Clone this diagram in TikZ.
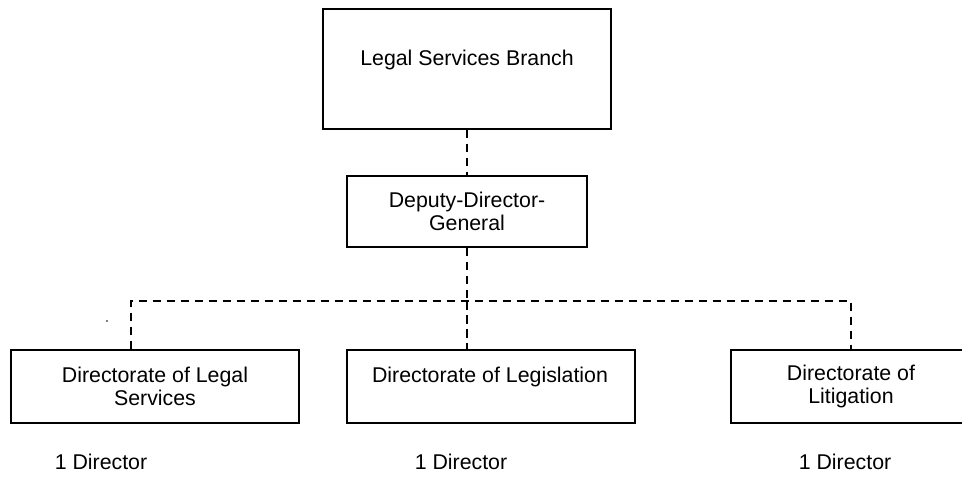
\documentclass[tikz,border=0pt]{standalone}
\usepackage{fontspec}
\setmainfont{Liberation Sans}
\begin{document}
\begin{tikzpicture}[x=0.75pt,y=-0.75pt,
  box/.style={draw=black,line width=1.1pt,rectangle,inner sep=0pt,
    minimum height=54.75pt,align=center,font=\fontsize{16}{17.5}\selectfont},
  txt/.style={inner sep=0pt,align=center,font=\fontsize{16}{17.5}\selectfont},
  conn/.style={draw=black,line width=1.1pt,dash pattern=on 6.5pt off 4pt}]
\useasboundingbox (0,0) rectangle (962,480);

% head of the branch
\node[box,minimum width=216pt,minimum height=90pt] (top) at (467,69) {};
\node[txt,anchor=base] (toptext) at (467,65) {Legal Services Branch};

\node[box,minimum width=180pt,minimum height=53.25pt] (ddg) at (467,211.5)
  {Deputy-Director-\\General};

% directorates
\node[box,minimum width=216pt] (lsvc) at (155,386.5) {Directorate of Legal\\Services};
\node[box,minimum width=216pt] (leg) at (491,386.5) {};
\node[txt,anchor=base] (legtext) at (490,382) {Directorate of Legislation};
\node[box,minimum width=180pt] (lit) at (851,386.5) {Directorate of\\Litigation};

% staffing
\node[txt] (d1) at (101,462) {1 Director};
\node[txt] (d2) at (461,462) {1 Director};
\node[txt] (d3) at (845,462) {1 Director};

% reporting lines
\coordinate (busL) at (131,301);
\coordinate (busR) at (851,301);
\coordinate (busM) at (467,301);
\draw[conn] (top.south) -- (ddg.north);
\draw[conn] (ddg.south) -- (busM);
\draw[conn] (lsvc.north -| busL) -- (busL) -- (busR) -- (lit.north -| busR);
\draw[conn] (busM) -- (leg.north -| busM);

\fill (107,321) circle (0.9);
\end{tikzpicture}
\end{document}
